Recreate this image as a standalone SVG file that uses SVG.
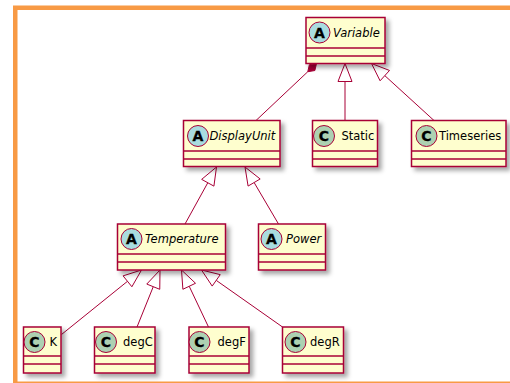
<svg xmlns="http://www.w3.org/2000/svg" width="510" height="383" viewBox="0 0 510 383">
  <defs>
    <filter id="shadow" x="-20%" y="-20%" width="150%" height="150%">
      <feDropShadow dx="3.5" dy="3.5" stdDeviation="2" flood-color="#000" flood-opacity="0.35"/>
    </filter>
  </defs>
  <style>
    .box { fill: #FEFECE; stroke: #A80036; stroke-width: 1.5; }
    .sep { stroke: #A80036; stroke-width: 1.5; }
    .icA { fill: #A9DCDF; stroke: #A80036; stroke-width: 1; }
    .icC { fill: #ADD1B2; stroke: #A80036; stroke-width: 1; }
    .glyph { font-family: "DejaVu Sans", "Liberation Sans", sans-serif; font-size: 14px; font-weight: bold; fill: #000; stroke: #000; stroke-width: 0.3; text-anchor: middle; }
    .name { font-family: "DejaVu Sans", "Liberation Sans", sans-serif; font-size: 11.5px; fill: #000; }
    .abs { font-style: italic; }
    .edge { fill: none; stroke: #A80036; stroke-width: 1; }
    .head { fill: #FFFFFF; stroke: #A80036; stroke-width: 1; }
    .diamond { fill: #A80036; stroke: #A80036; stroke-width: 1; }
  </style>

  <!-- frame -->
  <rect x="15.25" y="7.75" width="520" height="376" fill="none" stroke="#F89A45" stroke-width="4.5"/>

  <!-- connectors -->
  <g id="connectors">
    <!-- Variable composition to DisplayUnit -->
    <line class="edge" x1="307.77" y1="71.73" x2="256" y2="120.5"/>
    <polygon class="diamond" points="316.5,63.5 309.39,64.7 307.77,71.73 314.87,70.53"/>
    <!-- Static extends Variable -->
    <line class="edge" x1="345" y1="81.5" x2="345" y2="120.5"/>
    <polygon class="head" points="345,63.5 338,81.5 352,81.5"/>
    <!-- Timeseries extends Variable -->
    <line class="edge" x1="384.8" y1="75.63" x2="434" y2="120.5"/>
    <polygon class="head" points="371.5,63.5 380.08,80.8 389.52,70.46"/>
    <!-- Temperature extends DisplayUnit -->
    <line class="edge" x1="207.79" y1="182.76" x2="185" y2="224"/>
    <polygon class="head" points="216.5,167 201.66,179.37 213.92,186.14"/>
    <!-- Power extends DisplayUnit -->
    <line class="edge" x1="254.12" y1="182.52" x2="278.5" y2="224"/>
    <polygon class="head" points="245,167 248.09,186.07 260.16,178.97"/>
    <!-- K extends Temperature -->
    <line class="edge" x1="127.49" y1="281.3" x2="61.5" y2="334.5"/>
    <polygon class="head" points="141.5,270 123.09,275.85 131.88,286.75"/>
    <!-- degC extends Temperature -->
    <line class="edge" x1="153.26" y1="286.69" x2="137" y2="327"/>
    <polygon class="head" points="160,270 146.77,284.07 159.75,289.31"/>
    <!-- degF extends Temperature -->
    <line class="edge" x1="189.21" y1="286.27" x2="208.5" y2="327"/>
    <polygon class="head" points="181.5,270 182.88,289.27 195.53,283.27"/>
    <!-- degR extends Temperature -->
    <line class="edge" x1="216.22" y1="280.36" x2="282.5" y2="327"/>
    <polygon class="head" points="201.5,270 212.19,286.08 220.25,274.63"/>
  </g>

  <!-- nodes -->
  <g id="Variable">
    <rect class="box" x="306" y="17.5" width="79" height="46" filter="url(#shadow)"/>
    <line class="sep" x1="306" y1="48" x2="385" y2="48"/>
    <line class="sep" x1="306" y1="56" x2="385" y2="56"/>
    <circle class="icA" cx="319.5" cy="32.5" r="10.5"/>
    <text class="glyph" x="319.5" y="37.5">A</text>
    <text class="name abs" x="333" y="36.5">Variable</text>
  </g>

  <g id="DisplayUnit">
    <rect class="box" x="183.5" y="120.5" width="96.5" height="46" filter="url(#shadow)"/>
    <line class="sep" x1="183.5" y1="151" x2="280" y2="151"/>
    <line class="sep" x1="183.5" y1="159" x2="280" y2="159"/>
    <circle class="icA" cx="198" cy="136" r="10.5"/>
    <text class="glyph" x="198" y="141">A</text>
    <text class="name abs" x="209.5" y="140">DisplayUnit</text>
  </g>

  <g id="Static">
    <rect class="box" x="312.5" y="120.5" width="65" height="46" filter="url(#shadow)"/>
    <line class="sep" x1="312.5" y1="151" x2="377.5" y2="151"/>
    <line class="sep" x1="312.5" y1="159" x2="377.5" y2="159"/>
    <circle class="icC" cx="324" cy="136" r="10.5"/>
    <text class="glyph" x="324" y="141">C</text>
    <text class="name" x="341.5" y="140">Static</text>
  </g>

  <g id="Timeseries">
    <rect class="box" x="411.5" y="120.5" width="94.5" height="46" filter="url(#shadow)"/>
    <line class="sep" x1="411.5" y1="151" x2="506" y2="151"/>
    <line class="sep" x1="411.5" y1="159" x2="506" y2="159"/>
    <circle class="icC" cx="426.5" cy="136" r="10.5"/>
    <text class="glyph" x="426.5" y="141">C</text>
    <text class="name" x="439" y="140">Timeseries</text>
  </g>

  <g id="Temperature">
    <rect class="box" x="117.5" y="224" width="108" height="46" filter="url(#shadow)"/>
    <line class="sep" x1="117.5" y1="254" x2="225.5" y2="254"/>
    <line class="sep" x1="117.5" y1="262" x2="225.5" y2="262"/>
    <circle class="icA" cx="131.5" cy="239" r="10.5"/>
    <text class="glyph" x="131.5" y="244">A</text>
    <text class="name abs" x="145" y="243">Temperature</text>
  </g>

  <g id="Power">
    <rect class="box" x="258.5" y="224" width="67" height="46" filter="url(#shadow)"/>
    <line class="sep" x1="258.5" y1="254" x2="325.5" y2="254"/>
    <line class="sep" x1="258.5" y1="262" x2="325.5" y2="262"/>
    <circle class="icA" cx="271.5" cy="239" r="10.5"/>
    <text class="glyph" x="271.5" y="244">A</text>
    <text class="name abs" x="286" y="243">Power</text>
  </g>

  <g id="K">
    <rect class="box" x="23.5" y="327" width="37.5" height="46" filter="url(#shadow)"/>
    <line class="sep" x1="23.5" y1="356" x2="61" y2="356"/>
    <line class="sep" x1="23.5" y1="364" x2="61" y2="364"/>
    <circle class="icC" cx="34.5" cy="342" r="10.5"/>
    <text class="glyph" x="34.5" y="347">C</text>
    <text class="name" x="49.5" y="346">K</text>
  </g>

  <g id="degC">
    <rect class="box" x="94.5" y="327" width="60.5" height="46" filter="url(#shadow)"/>
    <line class="sep" x1="94.5" y1="356" x2="155" y2="356"/>
    <line class="sep" x1="94.5" y1="364" x2="155" y2="364"/>
    <circle class="icC" cx="106" cy="342" r="10.5"/>
    <text class="glyph" x="106" y="347">C</text>
    <text class="name" x="123" y="346">degC</text>
  </g>

  <g id="degF">
    <rect class="box" x="189" y="327" width="60" height="46" filter="url(#shadow)"/>
    <line class="sep" x1="189" y1="356" x2="249" y2="356"/>
    <line class="sep" x1="189" y1="364" x2="249" y2="364"/>
    <circle class="icC" cx="199.5" cy="342" r="10.5"/>
    <text class="glyph" x="199.5" y="347">C</text>
    <text class="name" x="217.5" y="346">degF</text>
  </g>

  <g id="degR">
    <rect class="box" x="282.5" y="327" width="61" height="46" filter="url(#shadow)"/>
    <line class="sep" x1="282.5" y1="356" x2="343.5" y2="356"/>
    <line class="sep" x1="282.5" y1="364" x2="343.5" y2="364"/>
    <circle class="icC" cx="295.5" cy="342" r="10.5"/>
    <text class="glyph" x="295.5" y="347">C</text>
    <text class="name" x="310" y="346">degR</text>
  </g>
</svg>
